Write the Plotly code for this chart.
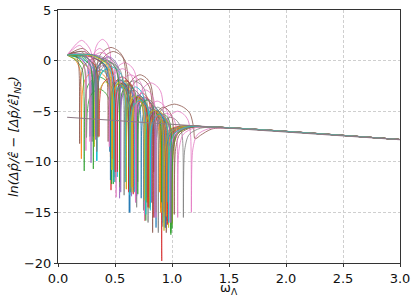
import numpy as np
import plotly.graph_objects as go

# Asymptote (NS reference line) endpoints
ASYM_X = [0.08, 3.0]
ASYM_Y = [-5.6, -7.8]
START_X = 0.08
START_Y = 0.55

COLORS = ["#1f77b4", "#ff7f0e", "#2ca02c", "#d62728", "#9467bd",
          "#8c564b", "#e377c2", "#7f7f7f", "#bcbd22", "#17becf"]

# Per-curve data:
# start-lobe height, zero (spike) positions, lobe peak heights, spike depths
START_PEAK = [0.3, 0.1, 0.0, 0.35, 0.2, 1.2, 2.0, 0.9, -0.2, 0.1,
              0.45, 0.45, 0.3, 0.4, 0.55, 0.8, 0.6, 0.6, 0.4, 0.5,
              0.5, 0.55, 0.35, 0.55, 0.6, 0.9, 1.5, 0.5, 0.5, 0.55]

ZEROS = [
    [0.28, 0.47, 0.625, 0.78, 0.90],
    [0.205, 0.46, 0.60, 0.76, 0.89],
    [0.23, 0.485, 0.64, 0.78, 0.90, 0.99],
    [0.465, 0.66, 0.82, 0.91],
    [0.29, 0.50, 0.645, 0.79, 0.93],
    [0.33, 0.60, 0.84, 1.2],
    [0.31, 0.47, 0.70, 0.93, 1.17],
    [0.30, 0.50, 0.69, 0.88, 1.10],
    [0.32, 0.49, 0.64, 0.78, 0.91, 1.0],
    [0.34, 0.52, 0.67, 0.81, 0.95],
    [0.455, 0.60, 0.73, 0.86, 0.97],
    [0.50, 0.65, 0.78, 0.90, 1.0],
    [0.25, 0.47, 0.62, 0.77, 0.91, 0.99],
    [0.36, 0.52, 0.68, 0.84, 0.96],
    [0.54, 0.69, 0.82, 0.94],
    [0.19, 0.44, 0.63, 0.80, 0.95],
    [0.245, 0.51, 0.76, 0.98],
    [0.33, 0.54, 0.79, 0.96],
    [0.35, 0.48, 0.65, 0.80, 0.97],
    [0.34, 0.59, 0.77, 0.92],
    [0.31, 0.46, 0.63, 0.79, 0.94],
    [0.48, 0.63, 0.79, 0.95],
    [0.31, 0.54, 0.70, 0.86, 1.0],
    [0.50, 0.62, 0.79, 0.93],
    [0.33, 0.55, 0.68, 0.85, 0.99],
    [0.35, 0.62, 0.83, 1.02],
    [0.28, 0.45, 0.68, 0.86, 1.05],
    [0.34, 0.58, 0.75, 0.92],
    [0.47, 0.60, 0.76, 0.93],
    [0.49, 0.63, 0.81, 0.97],
]

PEAKS = [
    [-0.9, -2.4, -3.8, -5.0],
    [-1.0, -2.1, -3.6, -5.1],
    [-1.6, -2.6, -3.7, -4.8, -5.8],
    [-1.6, -3.2, -5.0],
    [-0.5, -2.2, -3.7, -5.2],
    [1.3, -1.4, -4.3],
    [2.1, -0.2, -2.2, -5.0],
    [0.2, -2.0, -3.8, -5.6],
    [-1.0, -2.4, -3.8, -4.9, -6.0],
    [-0.8, -2.3, -3.9, -5.3],
    [-2.3, -3.4, -4.6, -5.6],
    [-2.3, -3.7, -5.0, -5.9],
    [-2.8, -2.2, -3.6, -5.0, -6.0],
    [-1.8, -2.0, -3.6, -5.2],
    [-2.9, -4.2, -5.5],
    [0.2, -1.9, -3.5, -5.0],
    [0.8, -1.4, -4.0],
    [0.3, -2.0, -4.6],
    [-2.1, -1.9, -3.6, -5.0],
    [-0.6, -2.6, -4.6],
    [-0.2, -1.9, -3.4, -4.9],
    [-2.5, -4.0, -5.4],
    [0.0, -2.4, -3.9, -5.3],
    [-2.2, -3.6, -5.0],
    [0.4, -2.5, -3.7, -5.4],
    [0.9, -1.8, -4.6],
    [1.2, -0.8, -2.9, -5.2],
    [-0.2, -2.9, -4.5],
    [-2.2, -3.5, -4.9],
    [-2.4, -3.9, -5.3],
]

DEPTHS = [
    [-7.5, -10.5, -15.0, -13.5, -14.5],
    [-9.7, -9.5, -12.7, -15.8, -13.0],
    [-10.9, -12.2, -13.0, -14.0, -14.5, -17.2],
    [-12.8, -13.2, -14.0, -19.8],
    [-10.1, -11.5, -13.4, -13.0, -15.5],
    [-7.0, -9.0, -11.0, -7.7],
    [-7.0, -9.5, -12.0, -14.0, -15.0],
    [-8.0, -12.0, -14.5, -17.0, -15.5],
    [-8.5, -10.8, -12.5, -14.0, -15.0, -16.2],
    [-9.9, -11.5, -13.0, -14.8, -15.8],
    [-9.0, -12.0, -13.6, -16.5, -15.2],
    [-10.8, -12.5, -13.0, -15.0, -16.0],
    [-7.6, -12.2, -12.7, -15.8, -14.0, -17.0],
    [-7.5, -11.0, -13.5, -15.5, -16.2],
    [-13.6, -13.4, -14.0, -16.5],
    [-8.2, -8.0, -13.0, -14.5, -17.0],
    [-8.9, -13.5, -15.8, -16.0],
    [-7.4, -12.5, -16.0, -14.0],
    [-7.6, -10.8, -13.0, -14.6, -16.5],
    [-9.9, -12.0, -15.2, -16.0],
    [-7.5, -11.8, -15.0, -13.5, -16.5],
    [-9.7, -12.7, -14.0, -15.4],
    [-10.7, -12.0, -13.2, -15.0, -16.6],
    [-11.0, -13.0, -14.5, -15.0],
    [-7.8, -13.0, -14.0, -15.5, -16.0],
    [-7.5, -10.5, -17.0, -15.2],
    [-8.0, -8.5, -14.0, -15.5, -15.5],
    [-9.0, -13.3, -14.8, -16.4],
    [-10.8, -12.7, -13.8, -16.8],
    [-12.0, -13.3, -14.5, -16.0],
]

# drawing template for a dome between two spikes (fraction, drop below peak)
LOBE_T = [0.03, 0.12, 0.28, 0.5, 0.72, 0.88, 0.97]
LOBE_O = [2.3, 0.9, 0.3, 0.0, 0.3, 0.9, 2.3]


def asym(x):
    return float(np.interp(x, ASYM_X, ASYM_Y))


def build(s, z, p, d):
    xs, ys = [START_X], [START_Y]
    w = z[0] - START_X
    for t, o in zip([0.55, 0.88, 0.97], [0.0, 0.9, 2.3]):
        xs.append(START_X + t * w)
        ys.append(s - o)
    xs.append(z[0]); ys.append(d[0])
    for i in range(len(p)):
        a, b = z[i], z[i + 1]
        w = b - a
        for t, o in zip(LOBE_T, LOBE_O):
            xs.append(a + t * w); ys.append(p[i] - o)
        xs.append(b); ys.append(d[i + 1])
    zn, dn = z[-1], d[-1]
    for dx, o in zip([0.012, 0.05, 0.15], [2.4, 0.9, 0.2]):
        x = zn + dx
        xs.append(x); ys.append(max(asym(x) - o, dn))
    x = max(zn + 0.32, 1.35)
    xs.append(x); ys.append(asym(x))
    xs.append(ASYM_X[-1]); ys.append(ASYM_Y[-1])
    return xs, ys


fig = go.Figure()
for k in range(len(ZEROS)):
    xs, ys = build(START_PEAK[k], ZEROS[k], PEAKS[k], DEPTHS[k])
    fig.add_trace(go.Scatter(x=xs, y=ys, mode="lines",
                             line=dict(color=COLORS[k % 10], width=0.8,
                                       shape="spline", smoothing=0.8),
                             showlegend=False, hoverinfo="skip"))

fig.add_trace(go.Scatter(x=ASYM_X, y=ASYM_Y, mode="lines",
                         line=dict(color="#8e7a85", width=1.2),
                         showlegend=False, hoverinfo="skip"))

axis_common = dict(showline=True, linecolor="#333333", linewidth=1, mirror=True,
                   ticks="outside", ticklen=3, tickcolor="#333333",
                   showgrid=True, gridcolor="#cfcfcf", griddash="3px,2px", gridwidth=0.8,
                   zeroline=False, automargin=False,
                   tickfont=dict(family="DejaVu Sans", size=13, color="#111111"))

fig.update_layout(
    width=415, height=302,
    margin=dict(l=58, r=15, t=10, b=39, autoexpand=False),
    paper_bgcolor="white", plot_bgcolor="white",
    font=dict(family="DejaVu Sans", size=13, color="#111111"),
    xaxis=dict(range=[0, 3], dtick=0.5, tickformat=".1f", **axis_common),
    yaxis=dict(range=[-20, 5], dtick=5, **axis_common),
    annotations=[
        dict(text="ω<sub>Λ</sub>", xref="paper", yref="paper", x=0.5, y=-0.1,
             xanchor="center", yanchor="middle", showarrow=False,
             font=dict(family="DejaVu Sans", size=13, color="#111111")),
        dict(text="<i>ln(Δp\u0302/ε\u0302 − [Δp\u0302/ε\u0302]<sub>NS</sub>)</i>",
             xref="paper", yref="paper", x=-0.127, y=0.5, textangle=-90,
             xanchor="center", yanchor="middle", showarrow=False,
             font=dict(family="DejaVu Sans", size=13, color="#111111")),
    ],
)

fig.write_html("out.html", config={"displayModeBar": False},
               post_script="document.body.style.margin='0';document.body.style.overflow='hidden';")
